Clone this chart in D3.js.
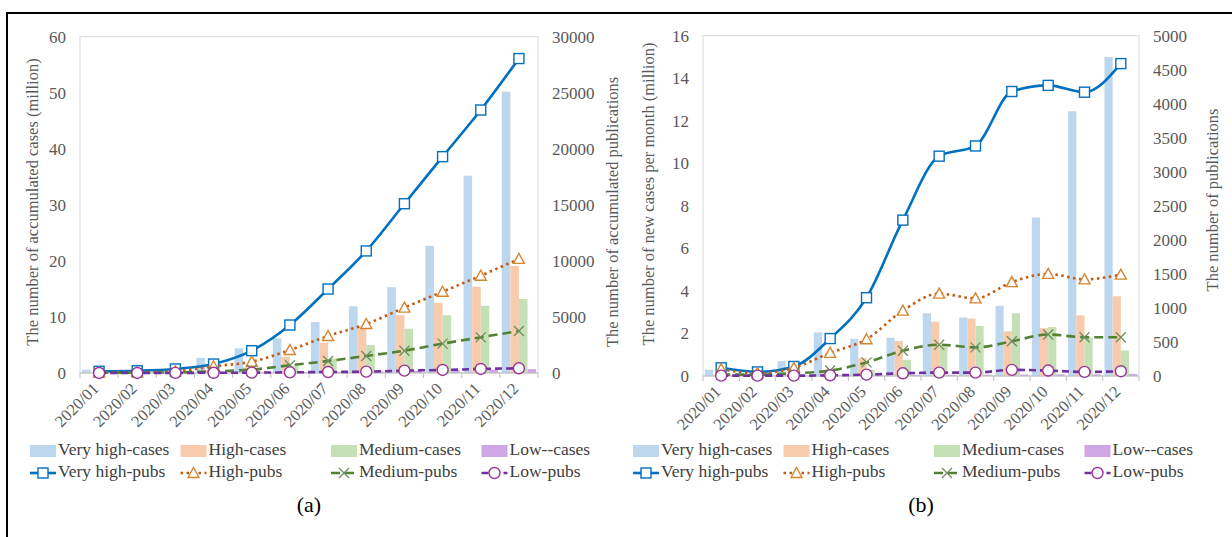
<!DOCTYPE html>
<html>
<head>
<meta charset="utf-8">
<script src="https://cdn.jsdelivr.net/npm/d3@7"></script>
<style>
  body { margin: 0; background: #fff; }
  svg text { font-family: "Times New Roman", "Liberation Serif", "DejaVu Serif", serif; }
</style>
</head>
<body>
<svg id="chart" width="1232" height="537"></svg>
<script>
const months = ["2020/01","2020/02","2020/03","2020/04","2020/05","2020/06",
                "2020/07","2020/08","2020/09","2020/10","2020/11","2020/12"];

// (a) accumulated cases, million
const accVeryHighCases = [0.6, 0.5, 0.7, 2.7, 4.4, 6.2, 9.1, 11.9, 15.3, 22.7, 35.2, 50.2];
const accHighCases     = [0.1, 0.1, 0.2, 0.5, 1.0, 2.9, 5.4, 8.3, 10.3, 12.5, 15.4, 19.1];
const accMediumCases   = [0.0, 0.0, 0.1, 0.3, 0.5, 1.3, 2.6, 5.0, 7.9, 10.3, 12.0, 13.2];
const accLowCases      = [0.0, 0.0, 0.0, 0.05, 0.1, 0.15, 0.2, 0.3, 0.4, 0.5, 0.6, 0.7];
// (a) accumulated publications
const accVeryHighPubs = [150, 200, 360, 800, 1990, 4280, 7490, 10890, 15100, 19300, 23460, 28050];
const accHighPubs     = [30, 60, 150, 600, 1010, 2050, 3300, 4370, 5830, 7250, 8680, 10180];
const accMediumPubs   = [20, 30, 60, 150, 300, 690, 1070, 1520, 1990, 2620, 3180, 3750];
const accLowPubs      = [5, 5, 10, 20, 30, 60, 90, 120, 210, 270, 360, 420];

// (b) new cases per month, million
const newVeryHighCases = [0.3, 0.1, 0.7, 2.05, 1.75, 1.8, 2.95, 2.75, 3.3, 7.45, 12.45, 15.0];
const newHighCases     = [0.05, 0.02, 0.05, 0.25, 0.85, 1.65, 2.55, 2.7, 2.1, 2.25, 2.85, 3.75];
const newMediumCases   = [0.0, 0.0, 0.02, 0.05, 0.3, 0.75, 1.4, 2.35, 2.95, 2.3, 1.8, 1.2];
const newLowCases      = [0.0, 0.0, 0.0, 0.02, 0.03, 0.05, 0.06, 0.06, 0.07, 0.08, 0.08, 0.1];
// (b) publications per month
const newVeryHighPubs = [120, 60, 140, 550, 1150, 2290, 3230, 3380, 4180, 4270, 4170, 4590];
const newHighPubs     = [100, 40, 120, 340, 540, 960, 1210, 1140, 1380, 1500, 1420, 1490];
const newMediumPubs   = [20, 20, 40, 80, 200, 370, 460, 420, 510, 610, 570, 570];
const newLowPubs      = [5, 5, 5, 10, 20, 40, 50, 50, 90, 80, 60, 70];

const caseLabels = ["Very high-cases", "High-cases", "Medium-cases", "Low--cases"];
const pubLabels  = ["Very high-pubs", "High-pubs", "Medium-pubs", "Low-pubs"];

const barColors = ["#bdd7ee", "#f8cbad", "#c5e0b4", "#cfa6e6"];
const lineStyles = [
  {color: "#0070c0", dash: null, width: 2.6, marker: "square", mstroke: "#0070c0"},
  {color: "#c55a11", dash: "2.5,3.5", width: 2.6, marker: "triangle", mstroke: "#d6862f"},
  {color: "#548235", dash: "9,5", width: 2.6, marker: "x", mstroke: "#6f8f60"},
  {color: "#7030a0", dash: "7,4", width: 2.6, marker: "circle", mstroke: "#993399"}
];

const svg = d3.select("#chart");
const textColor = "#595959";
const serif = "'Times New Roman', 'Liberation Serif', 'DejaVu Serif', serif";

// outer frame
svg.append("rect")
  .attr("x", 7).attr("y", 13).attr("width", 1240).attr("height", 540)
  .attr("fill", "none").attr("stroke", "#000").attr("stroke-width", 2);

function drawMarker(g, type, cx, cy, stroke) {
  if (type === "square") {
    g.append("rect").attr("x", cx - 5).attr("y", cy - 5).attr("width", 10).attr("height", 10)
      .attr("fill", "#fff").attr("stroke", stroke).attr("stroke-width", 1.4);
  } else if (type === "triangle") {
    g.append("path")
      .attr("d", `M${cx},${cy - 5.5}L${cx + 5.5},${cy + 4.5}L${cx - 5.5},${cy + 4.5}Z`)
      .attr("fill", "#fff").attr("stroke", stroke).attr("stroke-width", 1.4);
  } else if (type === "x") {
    g.append("path")
      .attr("d", `M${cx - 5},${cy - 5}L${cx + 5},${cy + 5}M${cx - 5},${cy + 5}L${cx + 5},${cy - 5}`)
      .attr("stroke", stroke).attr("stroke-width", 1.3);
  } else {
    g.append("circle").attr("cx", cx).attr("cy", cy).attr("r", 5.5)
      .attr("fill", "#fff").attr("stroke", stroke).attr("stroke-width", 1.4);
  }
}

function drawPanel(cfg) {
  const g = svg.append("g");

  const x = d3.scaleBand().domain(months).range([cfg.x0, cfg.x1])
    .paddingInner(0.1).paddingOuter(0.05);
  const xs = d3.scaleBand().domain([0, 1, 2, 3]).range([0, x.bandwidth()]);
  const yL = d3.scaleLinear().domain(cfg.leftDomain).range([cfg.yBot, cfg.yTop]);
  const yR = d3.scaleLinear().domain(cfg.rightDomain).range([cfg.yBot, cfg.yTop]);
  const cx = m => x(m) + x.bandwidth() / 2;

  // plot area border
  g.append("rect")
    .attr("x", cfg.x0).attr("y", cfg.yTop)
    .attr("width", cfg.x1 - cfg.x0).attr("height", cfg.yBot - cfg.yTop)
    .attr("fill", "none").attr("stroke", "#d9d9d9").attr("stroke-width", 1);

  // bars
  cfg.cases.forEach((vals, s) => {
    g.append("g").selectAll("rect").data(vals).join("rect")
      .attr("x", (d, i) => x(months[i]) + xs(s))
      .attr("y", d => yL(d))
      .attr("width", xs.bandwidth())
      .attr("height", d => cfg.yBot - yL(d))
      .attr("fill", barColors[s]);
  });

  // x axis ticks at category boundaries
  const step = x.step();
  const edges = d3.range(months.length + 1).map(i => cfg.x0 + i * step);
  g.append("g").selectAll("line").data(edges).join("line")
    .attr("x1", d => d).attr("x2", d => d)
    .attr("y1", cfg.yBot).attr("y2", cfg.yBot + 5)
    .attr("stroke", "#bfbfbf");
  g.append("line")
    .attr("x1", cfg.x0).attr("x2", cfg.x1).attr("y1", cfg.yBot).attr("y2", cfg.yBot)
    .attr("stroke", "#bfbfbf");

  // x labels
  g.append("g").selectAll("text").data(months).join("text")
    .attr("transform", m => `translate(${cx(m) - 2},${cfg.yBot + 14}) rotate(-45)`)
    .attr("text-anchor", "end")
    .attr("dominant-baseline", "middle")
    .attr("font-family", serif)
    .attr("font-size", 16.5)
    .attr("fill", textColor)
    .text(m => m);

  // y axes
  const leftAxis = d3.axisLeft(yL).tickValues(cfg.leftTicks).tickFormat(d3.format("d"))
    .tickSize(0).tickPadding(14);
  const la = g.append("g").attr("transform", `translate(${cfg.x0},0)`).call(leftAxis);
  const rightAxis = d3.axisRight(yR).tickValues(cfg.rightTicks).tickFormat(d3.format("d"))
    .tickSize(0).tickPadding(14);
  const ra = g.append("g").attr("transform", `translate(${cfg.x1},0)`).call(rightAxis);
  [la, ra].forEach(a => {
    a.attr("font-family", serif);
    a.select(".domain").remove();
    a.selectAll("text").attr("font-size", 17).attr("fill", textColor)
      .attr("font-family", serif);
  });

  // lines
  cfg.pubs.forEach((vals, s) => {
    const st = lineStyles[s];
    const line = d3.line()
      .x((d, i) => cx(months[i]))
      .y(d => yR(d))
      .curve(d3.curveMonotoneX);
    g.append("path").datum(vals)
      .attr("d", line)
      .attr("fill", "none")
      .attr("stroke", st.color)
      .attr("stroke-width", st.width)
      .attr("stroke-dasharray", st.dash);
    const mg = g.append("g");
    vals.forEach((v, i) => drawMarker(mg, st.marker, cx(months[i]), yR(v), st.mstroke));
  });

  // axis titles
  g.append("text")
    .attr("transform", `translate(${cfg.leftTitleX},${cfg.leftTitleY}) rotate(-90)`)
    .attr("text-anchor", "middle").attr("dominant-baseline", "middle")
    .attr("font-family", serif)
    .attr("font-size", 16.5).attr("fill", textColor)
    .text(cfg.leftTitle);
  g.append("text")
    .attr("transform", `translate(${cfg.rightTitleX},${cfg.rightTitleY}) rotate(-90)`)
    .attr("text-anchor", "middle").attr("dominant-baseline", "middle")
    .attr("font-family", serif)
    .attr("font-size", 16.5).attr("fill", textColor)
    .text(cfg.rightTitle);

  // legend
  const lg = g.append("g").attr("font-family", serif);
  caseLabels.forEach((lab, s) => {
    const lx = cfg.legendX + s * 150.5;
    lg.append("rect").attr("x", lx).attr("y", cfg.legendY - 6)
      .attr("width", 26).attr("height", 12).attr("fill", barColors[s]);
    lg.append("text").attr("x", lx + 28).attr("y", cfg.legendY)
      .attr("dominant-baseline", "middle").attr("font-size", 17.5).attr("fill", "#404040")
      .attr("font-family", serif)
      .text(lab);
  });
  pubLabels.forEach((lab, s) => {
    const st = lineStyles[s];
    const lx = cfg.legendX + s * 150.5;
    const ly = cfg.legendY + 22;
    lg.append("line").attr("x1", lx).attr("x2", lx + 26).attr("y1", ly).attr("y2", ly)
      .attr("stroke", st.color).attr("stroke-width", st.width)
      .attr("stroke-dasharray", st.dash);
    drawMarker(lg, st.marker, lx + 13, ly, st.mstroke);
    lg.append("text").attr("x", lx + 28).attr("y", ly)
      .attr("dominant-baseline", "middle").attr("font-size", 17.5).attr("fill", "#404040")
      .attr("font-family", serif)
      .text(lab);
  });

  // caption
  g.append("text")
    .attr("x", (cfg.x0 + cfg.x1) / 2).attr("y", 507)
    .attr("text-anchor", "middle").attr("dominant-baseline", "middle")
    .attr("font-family", serif)
    .attr("font-size", 22).attr("fill", "#000")
    .text(cfg.caption);
}

drawPanel({
  x0: 80, x1: 538, yTop: 36.7, yBot: 373,
  leftDomain: [0, 60], leftTicks: d3.range(0, 61, 10),
  rightDomain: [0, 30000], rightTicks: d3.range(0, 30001, 5000),
  cases: [accVeryHighCases, accHighCases, accMediumCases, accLowCases],
  pubs: [accVeryHighPubs, accHighPubs, accMediumPubs, accLowPubs],
  leftTitle: "The number of accumulated cases (million)",
  leftTitleX: 34, leftTitleY: 202,
  rightTitle: "The number of accumulated publications",
  rightTitleX: 614, rightTitleY: 212,
  legendX: 30, legendY: 451,
  caption: "(a)"
});

drawPanel({
  x0: 703, x1: 1139, yTop: 35.7, yBot: 376,
  leftDomain: [0, 16], leftTicks: d3.range(0, 17, 2),
  rightDomain: [0, 5000], rightTicks: d3.range(0, 5001, 500),
  cases: [newVeryHighCases, newHighCases, newMediumCases, newLowCases],
  pubs: [newVeryHighPubs, newHighPubs, newMediumPubs, newLowPubs],
  leftTitle: "The number of new cases per month (million)",
  leftTitleX: 650, leftTitleY: 194,
  rightTitle: "The number of publications",
  rightTitleX: 1214, rightTitleY: 200,
  legendX: 633, legendY: 451,
  caption: "(b)"
});
</script>
</body>
</html>
